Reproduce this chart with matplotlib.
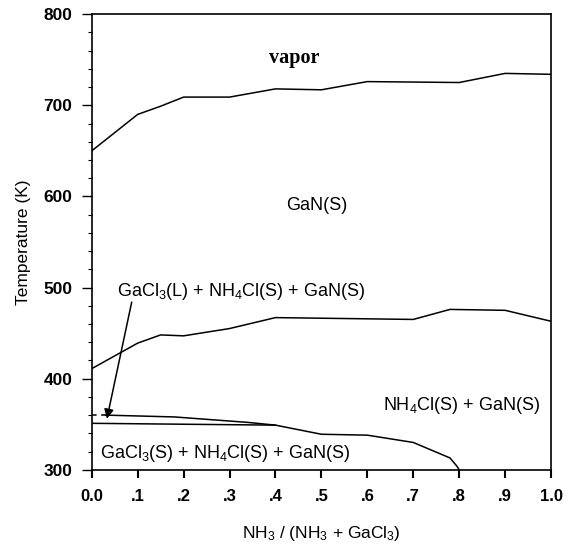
import numpy as np
import matplotlib
matplotlib.use('Agg')
from matplotlib import pyplot as plt
from matplotlib.ticker import MultipleLocator

plt.rcParams['font.family'] = ['Liberation Sans', 'DejaVu Sans']
plt.rcParams['mathtext.fontset'] = 'custom'
plt.rcParams['mathtext.rm'] = 'Liberation Sans'
plt.rcParams['mathtext.it'] = 'Liberation Sans'

# vapor / GaN(S) boundary
vap_x = [0.0, 0.1, 0.15, 0.2, 0.3, 0.4, 0.5, 0.6, 0.8, 0.9, 1.0]
vap_t = [650, 690, 699, 709, 709, 718, 717, 726, 725, 735, 734]

# GaN(S) / NH4Cl(S)+GaN(S) boundary
nh4_x = [0.0, 0.1, 0.15, 0.2, 0.3, 0.4, 0.7, 0.78, 0.9, 1.0]
nh4_t = [411, 439, 448, 447, 455, 467, 465, 476, 475, 463]

# GaCl3(L) region upper edge
liq_x = [0.03, 0.18, 0.34, 0.4]
liq_t = [360, 358, 352, 349]
liq_dash_x = [0.0, 0.03]
liq_dash_t = [360, 360]

# GaCl3(S) region upper edge
sol_x = [0.0, 0.2, 0.4, 0.5, 0.6, 0.7, 0.78, 0.795, 0.8]
sol_t = [351, 350, 349, 339, 338, 330, 313, 304, 300]

x_ticks = [0.0, 0.1, 0.2, 0.3, 0.4, 0.5, 0.6, 0.7, 0.8, 0.9, 1.0]
x_labels = ['0.0', '.1', '.2', '.3', '.4', '.5', '.6', '.7', '.8', '.9', '1.0']
y_ticks = [300, 400, 500, 600, 700, 800]

fig = plt.figure(figsize=(5.77, 5.45), dpi=100)
ax = fig.add_axes([0.159, 0.138, 0.796, 0.836])

lw = 1.1
ax.plot(vap_x, vap_t, color='black', lw=lw)
ax.plot(nh4_x, nh4_t, color='black', lw=lw)
ax.plot(liq_x, liq_t, color='black', lw=lw)
ax.plot(liq_dash_x, liq_dash_t, color='black', lw=lw, linestyle=(0, (3, 3)))
ax.plot(sol_x, sol_t, color='black', lw=lw)

ax.annotate('', xy=(0.033, 356), xytext=(0.087, 484),
            arrowprops=dict(arrowstyle='-|>', color='black', lw=1.1,
                            mutation_scale=14, shrinkA=0, shrinkB=0))

ax.text(0.44, 752, 'vapor', family='Liberation Serif', fontweight='bold',
        fontsize=14.5, ha='center', va='center')
ax.text(0.49, 590, 'GaN(S)', fontsize=13, ha='center', va='center')
ax.text(0.055, 496, r'GaCl$_\mathregular{3}$(L) + NH$_\mathregular{4}$Cl(S) + GaN(S)',
        fontsize=13, ha='left', va='center')
ax.text(0.634, 371, r'NH$_\mathregular{4}$Cl(S) + GaN(S)',
        fontsize=13, ha='left', va='center')
ax.text(0.017, 318, r'GaCl$_\mathregular{3}$(S) + NH$_\mathregular{4}$Cl(S) + GaN(S)',
        fontsize=13, ha='left', va='center')

ax.set_xlim(0, 1.0)
ax.set_ylim(300, 800)
ax.set_xticks(x_ticks)
ax.set_xticklabels(x_labels, fontweight='bold', fontsize=12)
ax.set_yticks(y_ticks)
ax.set_yticklabels([str(t) for t in y_ticks], fontweight='bold', fontsize=12.5)
ax.yaxis.set_minor_locator(MultipleLocator(20))
ax.tick_params(axis='x', direction='out', length=6, width=1.5, pad=8)
ax.tick_params(axis='y', which='major', direction='out', length=7, width=1.0, pad=7)
ax.tick_params(axis='y', which='minor', direction='out', length=3, width=0.8)

for s in ax.spines.values():
    s.set_linewidth(1.2)

ax.set_xlabel(r'NH$_\mathregular{3}$ / (NH$_\mathregular{3}$ + GaCl$_\mathregular{3}$)',
              fontsize=12.5, labelpad=14)
ax.set_ylabel('Temperature (K)', fontsize=12.5, labelpad=9)

fig.savefig('out.png', dpi=100, facecolor='w')
